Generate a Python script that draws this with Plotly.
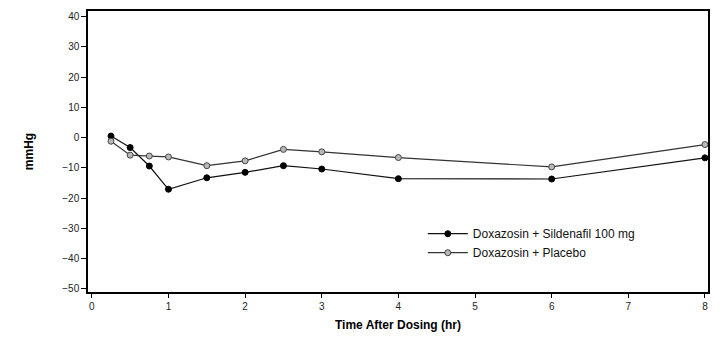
import plotly.graph_objects as go

hours = [0.25, 0.5, 0.75, 1, 1.5, 2, 2.5, 3, 4, 6, 8]
sildenafil = [0.5, -3.3, -9.4, -17.1, -13.3, -11.5, -9.3, -10.4, -13.6, -13.7, -6.7]
placebo = [-1.2, -5.8, -6.1, -6.4, -9.3, -7.7, -3.9, -4.7, -6.6, -9.7, -2.3]
x_ticks = [0, 1, 2, 3, 4, 5, 6, 7, 8]
y_ticks = [40, 30, 20, 10, 0, -10, -20, -30, -40, -50]

fig = go.Figure()
fig.add_trace(go.Scatter(
    x=hours, y=sildenafil, mode="lines+markers",
    name="Doxazosin + Sildenafil 100 mg",
    line=dict(color="#111111", width=1.2),
    marker=dict(symbol="circle", size=6, color="#000000", line=dict(color="#000000", width=1)),
))
fig.add_trace(go.Scatter(
    x=hours, y=placebo, mode="lines+markers",
    name="Doxazosin + Placebo",
    line=dict(color="#333333", width=1.2),
    marker=dict(symbol="circle", size=6, color="#b8b8b8", line=dict(color="#444444", width=1)),
))

fig.update_layout(
    width=727, height=351,
    margin=dict(l=88, r=19, t=9, b=59),
    paper_bgcolor="white", plot_bgcolor="white",
    font=dict(family="Liberation Sans, Arial, sans-serif", color="#222222"),
    showlegend=True,
    legend=dict(
        x=0.54, y=0.259, xanchor="left", yanchor="top",
        bgcolor="rgba(0,0,0,0)", font=dict(size=12, color="#111111"),
        tracegroupgap=0, itemwidth=40,
    ),
    xaxis=dict(
        range=[-0.05, 8.04], tickvals=x_ticks, ticktext=[str(v) for v in x_ticks],
        showgrid=False, zeroline=False,
        showline=True, linecolor="#000000", linewidth=1.5, mirror=True,
        ticks="outside", ticklen=4, tickcolor="#000000",
        tickfont=dict(size=10, color="#222222"),
        title=dict(text="<b>Time After Dosing (hr)</b>", font=dict(size=12, color="#000000"), standoff=10),
    ),
    yaxis=dict(
        range=[-51.1, 41.9], tickvals=y_ticks, ticktext=[("\u2212" + str(-v)) if v < 0 else str(v) for v in y_ticks],
        showgrid=False, zeroline=False,
        showline=True, linecolor="#000000", linewidth=1.5, mirror=True,
        ticks="outside", ticklen=5, tickcolor="#000000",
        tickfont=dict(size=10, color="#222222"),
        title=dict(text="<b>mmHg</b>", font=dict(size=12, color="#000000"), standoff=26),
    ),
)

fig.write_html("out.html")
